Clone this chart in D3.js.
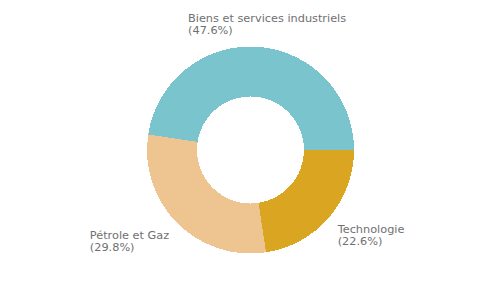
<!DOCTYPE html>
<html>
<head>
<meta charset="utf-8">
<script src="https://cdn.jsdelivr.net/npm/d3@7"></script>
<style>
  body { margin: 0; background: #fff; }
  text { font-family: "DejaVu Sans", sans-serif; font-size: 11.3px; fill: #707070; }
</style>
</head>
<body>
<div id="chart"></div>
<script>
const width = 500;
const height = 300;

// data
const categories = ["Technologie", "Pétrole et Gaz", "Biens et services industriels"];
const shares = [22.6, 29.8, 47.6];
const colors = ["#DAA520", "#EEC591", "#7AC5CD"];

const cx = 250.5, cy = 150;
const outerR = 103.5, innerR = 53.5, labelR = 115;

const svg = d3.select("#chart").append("svg").attr("width", width).attr("height", height);

const pie = d3.pie().sort(null).value((d) => d.value)
  .startAngle(Math.PI / 2).endAngle(Math.PI / 2 + 2 * Math.PI);
const data = categories.map((c, i) => ({ name: c, value: shares[i], color: colors[i] }));
const arcs = pie(data);

const arc = d3.arc().innerRadius(innerR).outerRadius(outerR);

const g = svg.append("g").attr("transform", `translate(${cx},${cy})`);

g.selectAll("path")
  .data(arcs)
  .join("path")
  .attr("d", arc)
  .attr("fill", (d) => d.data.color)
  .attr("shape-rendering", "crispEdges");

// labels
const lineH = 12;
arcs.forEach((d) => {
  const a = (d.startAngle + d.endAngle) / 2;
  const px = labelR * Math.sin(a);
  const py = -labelR * Math.cos(a);
  const lines = [d.data.name, `(${d.data.value.toFixed(1)}%)`];
  const t = g.append("text");
  lines.forEach((l) => t.append("tspan").text(l));
  const w = d3.max(t.selectAll("tspan").nodes(), (n) => n.getComputedTextLength());
  const s = Math.sin(a);
  let left;
  if (s > 0.3) left = px;
  else if (s < -0.3) left = px - w;
  else left = px - w * 0.45;
  let firstBase;
  if (py < 0) firstBase = py - 1.6 - lineH * (lines.length - 1);
  else firstBase = py + 8;
  t.selectAll("tspan")
    .attr("x", left)
    .attr("y", (_, i) => firstBase + i * lineH);
});
</script>
</body>
</html>
